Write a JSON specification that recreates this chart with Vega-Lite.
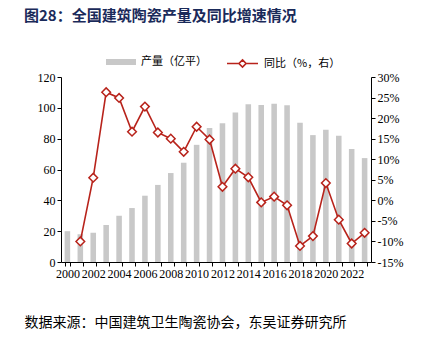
{
  "$schema": "https://vega.github.io/schema/vega-lite/v6.json",
  "width": 310,
  "height": 185,
  "autosize": {"type": "none"},
  "padding": {"left": 61, "top": 77, "right": 52, "bottom": 80},
  "background": "white",
  "config": {
    "font": "Liberation Serif, serif",
    "view": {"stroke": null},
    "axis": {
      "domainColor": "#000000",
      "tickColor": "#000000",
      "labelColor": "#000000",
      "labelFont": "Liberation Serif, serif",
      "labelFontSize": 12,
      "tickSize": 4,
      "labelPadding": 2,
      "grid": false
    },
    "legend": {
      "labelFont": "Noto Sans CJK SC",
      "labelFontSize": 11,
      "labelColor": "#000000",
      "padding": 0,
      "labelOffset": 5
    }
  },
  "title": {
    "text": "图28：全国建筑陶瓷产量及同比增速情况",
    "font": "Noto Sans CJK SC",
    "fontSize": 15,
    "fontWeight": "bold",
    "color": "#1a2a5a",
    "anchor": "start",
    "frame": "group",
    "dx": -37,
    "offset": 23
  },
  "data": {
    "values": [
      {"year": 2000, "output": 20, "yoy": null},
      {"year": 2001, "output": 18, "yoy": -10.0},
      {"year": 2002, "output": 19, "yoy": 5.5},
      {"year": 2003, "output": 24, "yoy": 26.3},
      {"year": 2004, "output": 30, "yoy": 24.9},
      {"year": 2005, "output": 35, "yoy": 16.7},
      {"year": 2006, "output": 43, "yoy": 22.8},
      {"year": 2007, "output": 50, "yoy": 16.5},
      {"year": 2008, "output": 57.7, "yoy": 15.0},
      {"year": 2009, "output": 64.4, "yoy": 11.8},
      {"year": 2010, "output": 76, "yoy": 17.9},
      {"year": 2011, "output": 87, "yoy": 14.8},
      {"year": 2012, "output": 90, "yoy": 3.3},
      {"year": 2013, "output": 97, "yoy": 7.7},
      {"year": 2014, "output": 102.4, "yoy": 5.6},
      {"year": 2015, "output": 101.8, "yoy": -0.5},
      {"year": 2016, "output": 102.6, "yoy": 0.9},
      {"year": 2017, "output": 101.6, "yoy": -1.2},
      {"year": 2018, "output": 90.3, "yoy": -11.1},
      {"year": 2019, "output": 82.3, "yoy": -8.7},
      {"year": 2020, "output": 85.8, "yoy": 4.2},
      {"year": 2021, "output": 81.9, "yoy": -4.7},
      {"year": 2022, "output": 73.3, "yoy": -10.5},
      {"year": 2023, "output": 67.4, "yoy": -7.9}
    ]
  },
  "encoding": {
    "x": {
      "field": "year",
      "type": "ordinal",
      "scale": {"paddingInner": 0.57, "paddingOuter": 0.28},
      "axis": {
        "tickBand": "extent",
        "labelAngle": 0,
        "labelOverlap": false,
        "labelExpr": "datum.value % 2 == 0 ? datum.label : ''",
        "title": "数据来源：中国建筑卫生陶瓷协会，东吴证券研究所",
        "titleFont": "Noto Sans CJK SC",
        "titleFontSize": 14,
        "titleFontWeight": "normal",
        "titleColor": "#000000",
        "titleX": -37,
        "titleY": 60,
        "titleAlign": "left",
        "titleAnchor": "start",
        "titleBaseline": "middle"
      }
    }
  },
  "layer": [
    {
      "mark": {"type": "bar"},
      "encoding": {
        "y": {
          "field": "output",
          "type": "quantitative",
          "scale": {"domain": [0, 120], "nice": false},
          "axis": {"values": [0, 20, 40, 60, 80, 100, 120], "title": null}
        },
        "fill": {
          "datum": "产量（亿平）",
          "type": "nominal",
          "scale": {"range": ["#c8c8c8"]},
          "legend": {
            "orient": "none",
            "legendX": 45,
            "legendY": -30,
            "title": null,
            "symbolType": "M-1,-0.2H1V0.2H-1Z",
            "symbolSize": 900,
            "symbolStrokeWidth": 0
          }
        }
      }
    },
    {
      "transform": [{"filter": "datum.yoy != null"}],
      "mark": {
        "type": "line",
        "strokeWidth": 1.6,
        "point": {"shape": "diamond", "filled": true, "fill": "white", "size": 75, "strokeWidth": 1.5}
      },
      "encoding": {
        "y": {
          "field": "yoy",
          "type": "quantitative",
          "scale": {"domain": [-15, 30], "nice": false},
          "axis": {
            "orient": "right",
            "values": [-15, -10, -5, 0, 5, 10, 15, 20, 25, 30],
            "labelExpr": "datum.value + '%'",
            "title": null
          }
        },
        "stroke": {
          "datum": "同比（%，右）",
          "type": "nominal",
          "scale": {"range": ["#b8231b"]},
          "legend": {
            "orient": "none",
            "legendX": 165,
            "legendY": -30,
            "title": null,
            "symbolType": "M-1,0H-0.23M0.23,0H1M0,-0.23L0.23,0L0,0.23L-0.23,0Z",
            "symbolSize": 961,
            "symbolStrokeWidth": 1.6,
            "symbolFillColor": "white"
          }
        }
      }
    }
  ],
  "resolve": {"scale": {"y": "independent", "fill": "independent", "stroke": "independent"}}
}
